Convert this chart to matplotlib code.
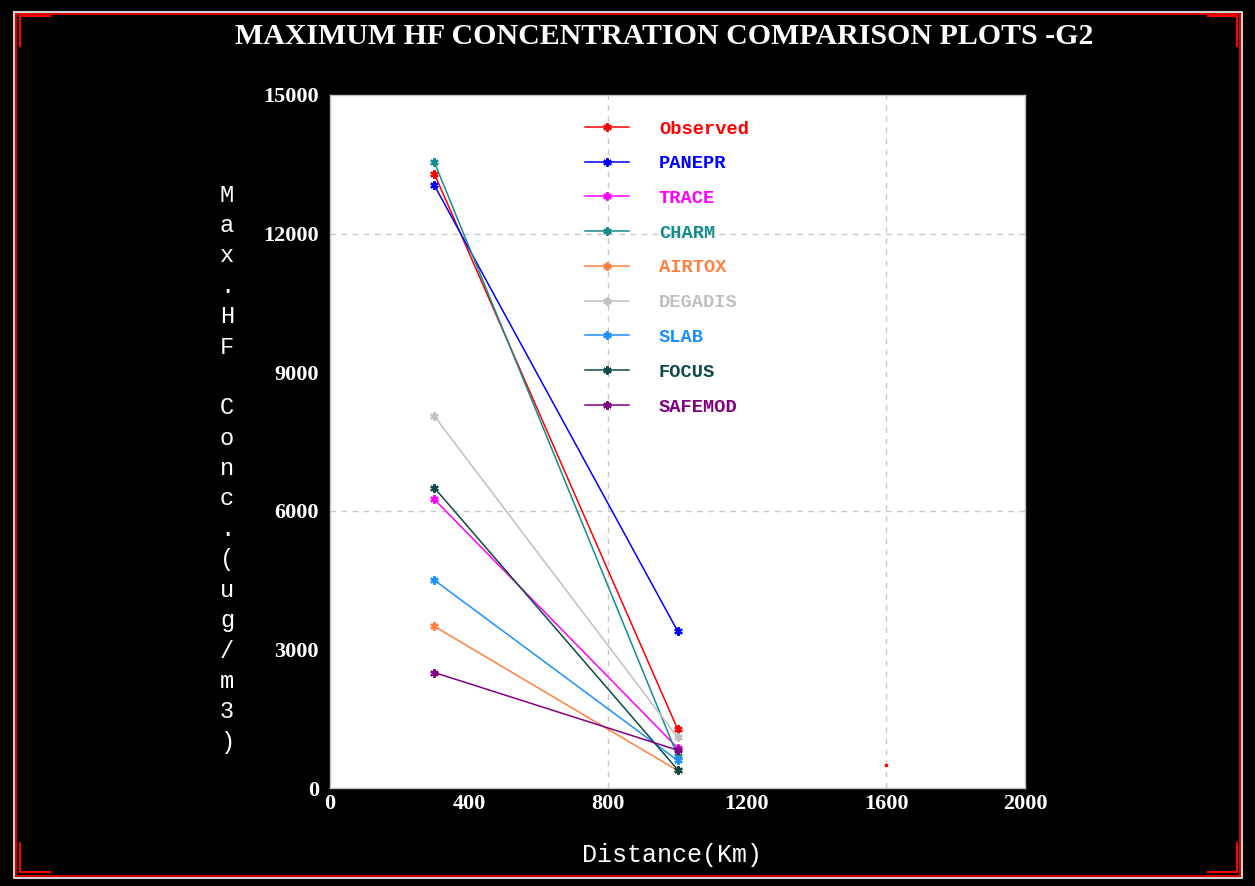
import matplotlib.pyplot as plt
from matplotlib.lines import Line2D

# distances (Km) and max HF concentrations (ug/m3)
distance = [300, 1000]
observed = [13300, 1280]
panepr = [13050, 3400]
trace = [6250, 870]
charm = [13550, 700]
airtox = [3500, 380]
degadis = [8050, 1100]
slab = [4500, 600]
focus = [6500, 400]
safemod = [2500, 820]

models = ["Observed", "PANEPR", "TRACE", "CHARM", "AIRTOX",
          "DEGADIS", "SLAB", "FOCUS", "SAFEMOD"]
series = [observed, panepr, trace, charm, airtox, degadis, slab, focus, safemod]
colors = ["#ff0000", "#0000ff", "#ff00ff", "#168c8c", "#ff8040",
          "#c0c0c0", "#1e90ff", "#0d4a48", "#800080"]

# stray observed point at 1600 Km
stray_x = [1600]
stray_y = [500]

xticks = [0, 400, 800, 1200, 1600, 2000]
yticks = [0, 3000, 6000, 9000, 12000, 15000]
grid_x = [800, 1600]
grid_y = [6000, 12000]

W, H = 1255, 886
fig = plt.figure(figsize=(W / 100, H / 100), dpi=100, facecolor="black")
ax = fig.add_axes([330 / W, 1 - 788 / H, (1025 - 330) / W, (788 - 95) / H])
ax.set_facecolor("white")

for gx in grid_x:
    ax.axvline(gx, color="#c8c8c8", linestyle=(0, (4, 4)), linewidth=1, zorder=1)
for gy in grid_y:
    ax.axhline(gy, color="#c8c8c8", linestyle=(0, (4, 4)), linewidth=1, zorder=1)

for name, vals, c in zip(models, series, colors):
    ax.plot(distance, vals, color=c, linewidth=1.1, marker=(6, 2, 0),
            markersize=6, markeredgewidth=1.6, label=name, zorder=3)

ax.plot(stray_x, stray_y, linestyle="none", marker="s", markersize=1.5,
        color="#ff0000", zorder=3)

ax.set_xlim(0, 2000)
ax.set_ylim(0, 15000)
ax.set_xticks(xticks)
ax.set_yticks(yticks)
ax.tick_params(length=0, colors="white", labelsize=16)
ax.tick_params(axis="x", pad=4)
ax.tick_params(axis="y", pad=8)
for lab in ax.get_xticklabels() + ax.get_yticklabels():
    lab.set_fontfamily("Liberation Serif")
    lab.set_fontweight("bold")
for s in ax.spines.values():
    s.set_color("#c0c0c0")
    s.set_linewidth(1)

leg = ax.legend(loc="upper left", bbox_to_anchor=(246 / 695, 1 - 16 / 693),
                frameon=False, numpoints=1, handlelength=2.3,
                handletextpad=1.62, labelspacing=0.94, borderpad=0,
                labelcolor="linecolor",
                prop={"family": "Liberation Mono", "weight": "bold", "size": 13.5})

fig.text(664 / W, 1 - 36 / H, "MAXIMUM HF CONCENTRATION COMPARISON PLOTS -G2",
         color="white", ha="center", va="center", fontsize=21.5,
         fontfamily="Liberation Serif", fontweight="bold")

ylabel = "Max.HF Conc.(ug/m3)"
for i, ch in enumerate(ylabel):
    fig.text(227 / W, 1 - (195 + i * 30.4) / H, ch, color="white",
             ha="center", va="center", fontsize=17, fontfamily="Liberation Mono")

fig.text(672 / W, 1 - 855 / H, "Distance(Km)", color="white", ha="center",
         va="center", fontsize=18, fontfamily="Liberation Mono")

# frame around the picture
def px_line(xs, ys, color, lw):
    fig.add_artist(Line2D([x / W for x in xs], [1 - y / H for y in ys],
                          color=color, linewidth=lw, transform=fig.transFigure))

px_line([14, 1242, 1242, 14, 14], [12, 12, 878, 878, 12], "#d0d0d0", 1.5)
px_line([16, 1240, 1240, 16, 16], [14, 14, 876, 876, 14], "#ff0000", 1.2)
px_line([50, 20, 20], [16, 16, 46], "#ff0000", 1.5)
px_line([1208, 1237, 1237], [16, 16, 46], "#ff0000", 1.5)
px_line([20, 20, 50], [843, 872, 872], "#ff0000", 1.5)
px_line([1237, 1237, 1208], [843, 872, 872], "#ff0000", 1.5)

fig.savefig("out.png", dpi=100, facecolor="black")
